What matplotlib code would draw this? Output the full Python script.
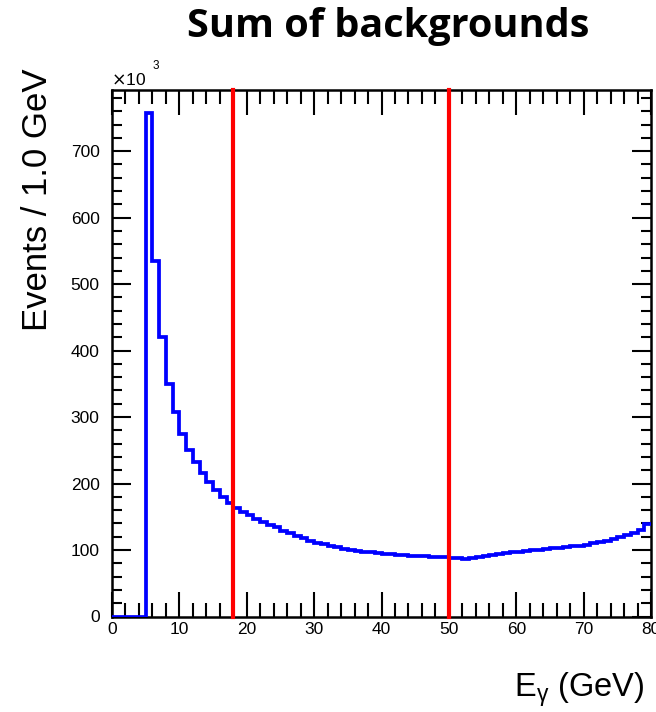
import matplotlib
matplotlib.use("Agg")
import matplotlib.pyplot as plt
import numpy as np

# bin contents (x10^3 events per 1 GeV bin), bins from 0 to 80 GeV
counts = [0, 0, 0, 0, 0, 757, 535, 420, 350, 307,
          275, 251, 232, 216, 203, 191, 180, 171, 163, 157,
          152, 146, 142, 138, 134, 129, 125, 121, 118, 114,
          111, 108.5, 106, 104, 102, 100.5, 99, 97.5, 96.5, 95.5,
          94.5, 93.5, 92.5, 92, 91.5, 91, 90.5, 90, 89.5, 89,
          88.5, 88.5, 87, 88, 89, 90.5, 92, 93.5, 95, 96.5,
          97.5, 98.5, 99.5, 100.5, 101.5, 102.5, 103.5, 104.5, 105.5, 106.5,
          108, 110, 112, 114, 116.5, 119, 122, 126, 130, 139]
bin_edges = np.arange(0, 81, 1)
cut_lines = [18, 50]

plt.rcParams['font.family'] = ['Liberation Sans', 'DejaVu Sans']

fig = plt.figure(figsize=(6.56, 7.12), dpi=100)
ax = fig.add_axes([112/656, 1-616.5/712, (651-112)/656, (616.5-90)/712])

ax.stairs(counts, bin_edges, color='#0000ff', lw=2.7, baseline=None, zorder=3)
for xc in cut_lines:
    ax.axvline(xc, color='#ff0000', lw=3.0, zorder=4, clip_on=False)

ax.set_xlim(0, 80)
ax.set_ylim(0, 792)
ax.set_xticks(np.arange(0, 81, 10))
ax.set_xticks(np.arange(0, 81, 2), minor=True)
ax.set_yticks(np.arange(0, 701, 100))
ax.set_yticks(np.arange(0, 792, 20), minor=True)
ax.tick_params(which='both', direction='in', top=True, right=True,
               width=1.5, labelsize=12.5, color='black')
ax.tick_params(axis='x', which='major', length=18, pad=4)
ax.tick_params(axis='x', which='minor', length=10)
ax.tick_params(axis='y', which='major', length=14, pad=9)
ax.tick_params(axis='y', which='minor', length=7)
for s in ax.spines.values():
    s.set_linewidth(1.8)

fig.text(111/656, 1-80/712, r"$\times$10", fontsize=12.5, va='center', ha='left')
fig.text(153/656, 1-66/712, "3", fontsize=8.5, va='center', ha='left')

fig.text(388/656, 1-26/712, "Sum of backgrounds", fontsize=28.5, fontweight='bold',
         ha='center', va='center', family=['Open Sans', 'DejaVu Sans'])
fig.text(38/656, 1-200/712, "Events / 1.0 GeV", fontsize=25, rotation=90,
         ha='center', va='center')
fig.text(645/656, 1-690/712, r"E$_{\mathregular{γ}}$ (GeV)", fontsize=23.5,
         ha='right', va='center')

fig.savefig("out.png", dpi=100)
